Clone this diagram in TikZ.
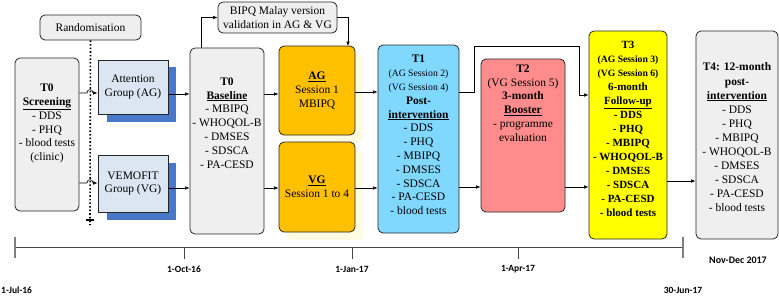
\documentclass[tikz,border=0pt]{standalone}
\usepackage{fontspec}
\setmainfont{Liberation Serif}
\newfontfamily\lblfont{Carlito}
\usetikzlibrary{arrows.meta,calc}
\definecolor{boxgray}{HTML}{EFEFEF}
\definecolor{attfill}{HTML}{DCE6F2}
\definecolor{attshadow}{HTML}{4A78C8}
\definecolor{agorange}{HTML}{FFC000}
\definecolor{glow}{HTML}{FDFBE2}
\definecolor{tonefill}{HTML}{80D8FF}
\definecolor{ttwofill}{HTML}{FF8C8C}
\definecolor{tthreefill}{HTML}{FFFF00}
\definecolor{axisgray}{HTML}{444444}
\begin{document}
\begin{tikzpicture}[x=1pt,y=-1pt,
  box/.style={draw=black!85, line width=0.8pt, rounded corners=5pt, inner sep=0pt, align=center,
    font=\fontsize{11.5}{13.8}\selectfont},
  txt/.style={align=center, inner sep=0pt, font=\fontsize{11.5}{13.8}\selectfont},
  arr/.style={-{Latex[length=4.5pt,width=3.5pt]}, line width=0.6pt},
  lbl/.style={font=\lblfont\bfseries\fontsize{9.5}{11}\selectfont, inner sep=0pt},
  shad/.style={fill=attshadow, draw=none},
  glowbox/.style={fill=glow, draw=none, rounded corners=5pt}
]
\useasboundingbox (0,0) rectangle (779,295);
\newcommand{\smtxt}[1]{{\fontsize{9.7}{13.8}\selectfont #1}}

% Randomisation
\node[box, fill=boxgray, minimum width=101pt, minimum height=25pt] (rand) at (90.5,27.5) {Randomisation};
\coordinate (dotend) at (90,225);
\draw[dotted, line width=1.6pt] (rand.south) -- (dotend);
\draw[line width=1.6pt] ($(dotend)+(-4,-5)$) -- ($(dotend)+(4,-5)$);

% Screening
\node[box, fill=boxgray, minimum width=64pt, minimum height=153pt] (scr) at (47,134.5) {};
\node[txt] (scrt) at (47,123.5) {\textbf{T0}\\\textbf{\underline{Screening}}\\- DDS\\- PHQ\\- blood tests\\(clinic)};

% Attention and VEMOFIT groups
\fill[shad] (107,67) rectangle (176,122);
\node[box, rounded corners=0pt, fill=attfill, minimum width=70pt, minimum height=54pt] (att) at (133,87) {Attention\\Group (AG)};
\fill[shad] (107,163) rectangle (176,220);
\node[box, rounded corners=0pt, fill=attfill, minimum width=70pt, minimum height=57pt] (vem) at (133,183.5) {VEMOFIT\\Group (VG)};

% Baseline
\node[box, fill=boxgray, minimum width=74pt, minimum height=186pt] (base) at (227,141) {};
\node[txt] (baset) at (227,123) {\textbf{T0}\\\textbf{\underline{Baseline}}\\- MBIPQ\\- WHOQOL-B\\- DMSES\\- SDSCA\\- PA-CESD};

% BIPQ
\node[box, fill=boxgray, minimum width=119pt, minimum height=31pt] (bipq) at (277.5,17.5) {BIPQ Malay version\\validation in AG \& VG};

% AG / VG sessions
\fill[glowbox] (287,54) rectangle (363,143);
\node[box, fill=agorange, minimum width=76pt, minimum height=89pt] (ag) at (317,90.5) {\textbf{\underline{AG}}\\Session 1\\MBIPQ};
\fill[glowbox] (287,150) rectangle (363,240);
\node[box, fill=agorange, minimum width=76pt, minimum height=90pt] (vg) at (317,187) {\textbf{\underline{VG}}\\Session 1 to 4};

% T1
\node[box, fill=tonefill, minimum width=81pt, minimum height=188pt] (tone) at (418.5,139) {};
\node[txt] (tonet) at (418.5,135) {\textbf{T1}\\\smtxt{(AG Session 2)}\\\smtxt{(VG Session 4)}\\\textbf{Post-}\\\textbf{\underline{intervention}}\\- DDS\\- PHQ\\- MBIPQ\\- DMSES\\- SDSCA\\- PA-CESD\\- blood tests};

% T2
\node[box, fill=ttwofill, minimum width=84pt, minimum height=153pt] (ttwo) at (523,135.5) {};
\node[txt] (ttwot) at (523,103) {\textbf{T2}\\(VG Session 5)\\\textbf{3-month}\\\textbf{\underline{Booster}}\\- programme\\evaluation};

% T3
\node[box, fill=tthreefill, minimum width=78pt, minimum height=208pt] (tthree) at (628,135) {};
\node[txt, font=\bfseries\fontsize{11}{14}\selectfont] (tthreet) at (628,129) {T3\\\smtxt{(AG Session 3)}\\\smtxt{(VG Session 6)}\\6-month\\\underline{Follow-up}\\- DDS\\- PHQ\\- MBIPQ\\- WHOQOL-B\\- DMSES\\- SDSCA\\- PA-CESD\\- blood tests};

% T4
\node[box, fill=boxgray, minimum width=82pt, minimum height=208pt] (tfour) at (737,135) {};
\node[txt, font=\fontsize{11.5}{14.1}\selectfont] (tfourt) at (737,137.5) {\textbf{T4: 12-month}\\\textbf{post-}\\\textbf{\underline{intervention}}\\- DDS\\- PHQ\\- MBIPQ\\- WHOQOL-B\\- DMSES\\- SDSCA\\- PA-CESD\\- blood tests};

% Connectors
\draw[arr] (scr.east |- 0,93) -- (87,93) .. controls (87,88.5) and (93,88.5) .. (93,93) -- (att.west |- 0,93);
\draw[arr] (scr.east |- 0,183) -- (87,183) .. controls (87,178.5) and (93,178.5) .. (93,183) -- (vem.west |- 0,183);
\draw[arr] (att.east |- 0,94) -- (base.west |- 0,94);
\draw[arr] (vem.east |- 0,188) -- (base.west |- 0,188);
\draw[arr] (201,48) -- (201,17.5) -- (bipq.west);
\draw[arr] (bipq.east) -- (348,17.5) -- (348,46);
\draw[arr] (base.east |- 0,94) -- (ag.west |- 0,94);
\draw[arr] (base.east |- 0,188) -- (vg.west |- 0,188);
\draw[arr] (ag.east |- 0,92) -- (tone.west |- 0,92);
\draw[arr] (vg.east |- 0,188) -- (tone.west |- 0,188);
\draw[arr] (tone.east |- 0,92) -- (474,92) -- (474,46) -- (579,46) -- (579,95) -- (tthree.west |- 0,95);
\draw[arr] (tone.east |- 0,187) -- (ttwo.west |- 0,187);
\draw[arr] (ttwo.east |- 0,187) -- (tthree.west |- 0,187);
\draw[arr] (tthree.east |- 0,181) -- (tfour.west |- 0,181);

% Timeline
\coordinate (tla) at (15,247);
\coordinate (tlb) at (683,247);
\draw[axisgray, line width=0.9pt] (tla) -- (tlb);
\draw[gray, line width=1.8pt] (15,237) -- (15,258);
\draw[gray, line width=1.8pt] (683,237) -- (683,258);
\foreach \tx in {184,352,518} \draw[axisgray, line width=0.9pt] (\tx,247) -- (\tx,259);
\node[lbl] (d1) at (184,269) {1-Oct-16};
\node[lbl] (d2) at (352,269) {1-Jan-17};
\node[lbl] (d3) at (518,269) {1-Apr-17};
\node[lbl, anchor=west] (d0) at (1,290) {1-Jul-16};
\node[lbl] (d4) at (683,290) {30-Jun-17};
\node[lbl, font=\lblfont\bfseries\fontsize{10}{12}\selectfont] (d5) at (738,260) {Nov-Dec 2017};
\end{tikzpicture}
\end{document}
